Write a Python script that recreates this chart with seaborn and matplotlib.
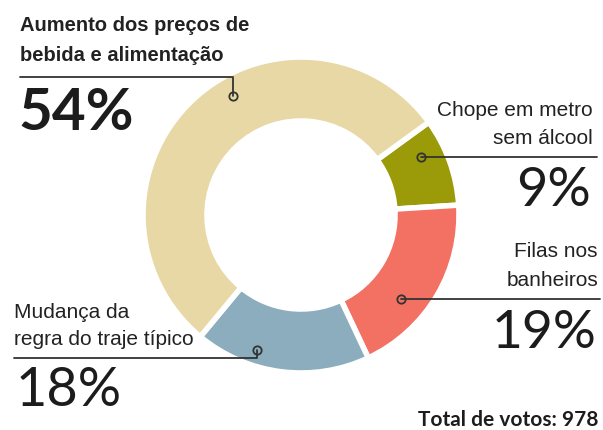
import matplotlib
matplotlib.use("Agg")
import matplotlib.pyplot as plt
import seaborn as sns

# ---- data ----
categories = ["Chope em metro\nsem álcool", "Filas nos\nbanheiros",
              "Mudança da\nregra do traje típico", "Aumento dos preços de\nbebida e alimentação"]
values = [9, 19, 18, 54]
pct_labels = ["9%", "19%", "18%", "54%"]
colors = ["#9b9a08", "#f27162", "#8badbd", "#e8d8a6"]
total_text = "Total de votos: 978"

sns.set_theme(style="white")
plt.rcParams['font.family'] = ['Liberation Sans', 'DejaVu Sans']

W, H = 603, 430
fig = plt.figure(figsize=(W / 100, H / 100), dpi=100)
ax = fig.add_axes([0, 0, 1, 1])

def Y(px):
    return H - px

cx, cy, R = 301, Y(215), 158
ax.pie(values, colors=colors, startangle=36, counterclock=False,
       center=(cx, cy), radius=R, frame=True,
       wedgeprops=dict(width=64, edgecolor="white", linewidth=4))

ax.set_xlim(0, W)
ax.set_ylim(0, H)
ax.set_aspect("equal")
ax.axis("off")

lc = "#333333"
tc = "#222222"
dot = dict(marker="o", markersize=6, markerfacecolor="none", markeredgecolor=lc, mew=1.3)

# leader lines
ax.plot([20, 233, 233], [Y(77), Y(77), Y(96)], color=lc, lw=1.3)
ax.plot([233], [Y(96)], **dot)
ax.plot([421, 597], [Y(157), Y(157)], color=lc, lw=1.3)
ax.plot([421], [Y(157)], **dot)
ax.plot([401, 600], [Y(299), Y(299)], color=lc, lw=1.3)
ax.plot([401], [Y(299)], **dot)
ax.plot([14, 257, 257], [Y(358), Y(358), Y(350)], color=lc, lw=1.3)
ax.plot([257], [Y(350)], **dot)

# category labels
lab_fs = 15
l0 = categories[0].split("\n")
ax.text(593, Y(116), l0[0], ha="right", va="baseline", fontsize=lab_fs, color=tc)
ax.text(593, Y(144), l0[1], ha="right", va="baseline", fontsize=lab_fs, color=tc)
l1 = categories[1].split("\n")
ax.text(598, Y(257), l1[0], ha="right", va="baseline", fontsize=lab_fs, color=tc)
ax.text(598, Y(286), l1[1], ha="right", va="baseline", fontsize=lab_fs, color=tc)
l2 = categories[2].split("\n")
ax.text(14, Y(318), l2[0], ha="left", va="baseline", fontsize=lab_fs, color=tc)
ax.text(14, Y(345), l2[1], ha="left", va="baseline", fontsize=lab_fs, color=tc)
l3 = categories[3].split("\n")
ax.text(20, Y(31), l3[0], ha="left", va="baseline", fontsize=14.5, fontweight="bold", color=tc)
ax.text(20, Y(61), l3[1], ha="left", va="baseline", fontsize=14.5, fontweight="bold", color=tc)

# percentages
numfam = ['Lato', 'DejaVu Sans']
ax.text(591, Y(206), pct_labels[0], ha="right", va="baseline", fontsize=39,
        fontweight="normal", family=numfam, color="#1c1c1c")
ax.text(597, Y(348), pct_labels[1], ha="right", va="baseline", fontsize=38.5,
        fontweight="normal", family=numfam, color="#1c1c1c")
ax.text(16, Y(406), pct_labels[2], ha="left", va="baseline", fontsize=39,
        fontweight="normal", family=numfam, color="#1c1c1c")
ax.text(18, Y(130), pct_labels[3], ha="left", va="baseline", fontsize=42,
        fontweight="bold", family=numfam, color="#1c1c1c")

ax.text(598, Y(426), total_text, ha="right", va="baseline", fontsize=15,
        fontweight="bold", family=numfam, color="#1c1c1c")

fig.savefig("out.png", dpi=100)
